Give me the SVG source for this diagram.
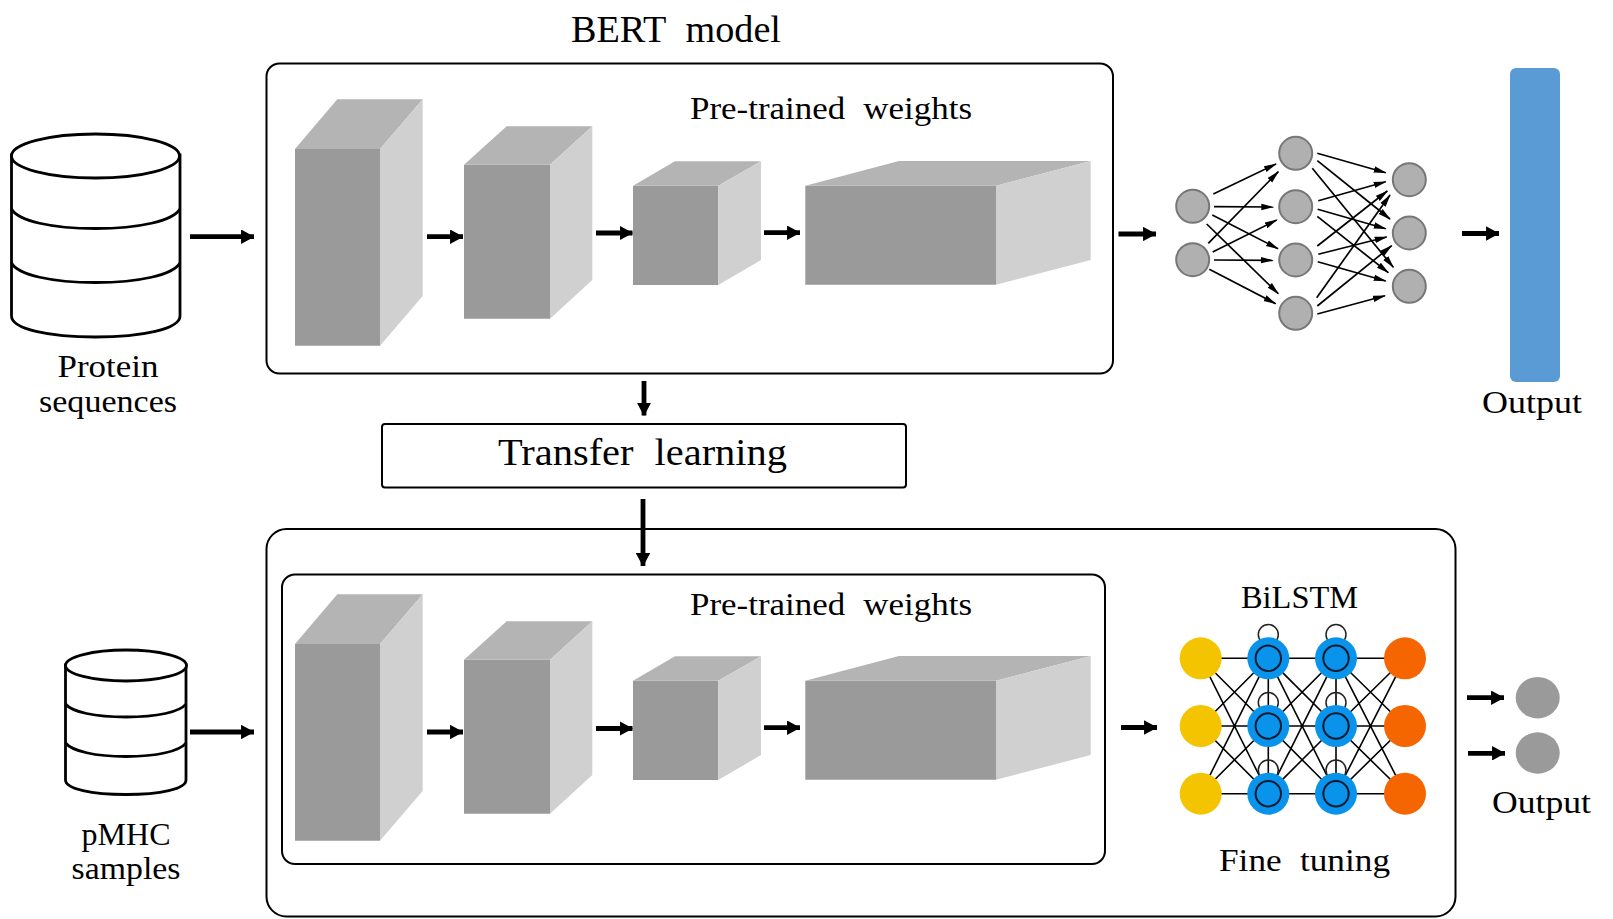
<svg xmlns="http://www.w3.org/2000/svg" width="1613" height="919" viewBox="0 0 1613 919">
<defs>
<marker id="big" markerUnits="strokeWidth" markerWidth="2.800" markerHeight="3" refX="2.700" refY="1.500" orient="auto"><path d="M0,0L2.800,1.500L0,3z" fill="#000"/></marker>
<marker id="small" markerUnits="userSpaceOnUse" markerWidth="13" markerHeight="8" refX="12" refY="4" orient="auto"><path d="M0,0.800L13,4L0,7.200z" fill="#000"/></marker>
<g id="stack">
<g id="c1"><path class="f" d="M295 149H380V345.700H295z"/><path class="t" d="M295 149L337.300 99.300H422.700L380 149z"/><path class="s" d="M380 149L422.700 99.300V296L380 345.700z"/></g>
<g id="c2"><path class="f" d="M464 164.700H550V318.700H464z"/><path class="t" d="M464 164.700L506.700 126.300H592.300L550 164.700z"/><path class="s" d="M550 164.700L592.300 126.300V280L550 318.700z"/></g>
<g id="c3"><path class="f" d="M633 185.700H718.300V285H633z"/><path class="t" d="M633 185.700L675 161.300H761L718.300 185.700z"/><path class="s" d="M718.300 185.700L761 161.300V260L718.300 285z"/></g>
<g id="c4"><path class="f" d="M805.300 185.700H996V284.700H805.300z"/><path class="t" d="M805.300 185.700L899 161H1090.700L996 185.700z"/><path class="s" d="M996 185.700L1090.700 161V260L996 284.700z"/></g>
</g>
</defs>
<style>
.f{fill:#9a9a9a}.t{fill:#b4b4b4}.s{fill:#d1d0d0}
.box{fill:#fff;stroke:#000;stroke-width:2}
text{font-family:"Liberation Serif","Times New Roman",serif;fill:#000;font-size:32px}
.m{text-anchor:middle}
.two{word-spacing:.27em}
.big{stroke:#000;stroke-width:4.800;fill:none;marker-end:url(#big)}
.nn{stroke:#000;stroke-width:1.700;fill:none;marker-end:url(#small)}
.nnode{fill:#b0b0b0;stroke:#777;stroke-width:2}
.db{fill:#fff;stroke:#000;stroke-width:2.800}
.arc{fill:none;stroke:#000;stroke-width:2.800}
.e{stroke:#000;stroke-width:1.600;fill:none}
.y{fill:#f4c400}.b{fill:#0a93ea}.o{fill:#f56600}
.i{fill:none;stroke:#0a1a30;stroke-width:2}
.l{fill:none;stroke:#222;stroke-width:1.500}
</style>
<rect width="1613" height="919" fill="#fff"/>

<g id="bert-box"><rect class="box" x="266.500" y="63.500" width="846.500" height="310" rx="13"/></g>
<g id="fine-box"><rect class="box" x="266.500" y="529" width="1189" height="387.500" rx="20"/></g>
<g id="inner-box"><rect class="box" x="282" y="574.500" width="823" height="289.500" rx="13"/></g>
<g id="transfer"><rect class="box" x="382" y="424" width="524" height="63.500" rx="3"/>
<text x="642.500" y="465" class="m two" style="font-size:37px" textLength="289" lengthAdjust="spacingAndGlyphs">Transfer learning</text></g>

<g id="bert-stack"><use href="#stack"/></g>
<g id="fine-stack"><use href="#stack" y="495"/></g>

<g id="protein-db">
<path class="db" d="M11.500 155V316C11.500 329 49 337 95.500 337S180 329 180 316V155z"/>
<ellipse class="db" cx="95.500" cy="156" rx="84" ry="22"/>
<path class="arc" d="M11.500 209C18 221 52 228.500 95.500 228.500S173 221 180 209M11.500 263C18 275 52 282.500 95.500 282.500S173 275 180 263"/>
<text x="108" y="377" class="m" textLength="101" lengthAdjust="spacingAndGlyphs">Protein</text><text x="108" y="412" class="m" textLength="138" lengthAdjust="spacingAndGlyphs">sequences</text>
</g>
<g id="pmhc-db">
<path class="db" d="M65.500 665V780C65.500 789 92 794.500 126 794.500S186 789 186 780V665z"/>
<ellipse class="db" cx="126" cy="665.500" rx="60.500" ry="15.500"/>
<path class="arc" d="M65.500 704C72 712 95 717 126 717S180 712 186 704M65.500 743C72 751 95 756.500 126 756.500S180 751 186 743"/>
<text x="126" y="845" class="m" textLength="89" lengthAdjust="spacingAndGlyphs">pMHC</text><text x="126" y="879" class="m" textLength="109" lengthAdjust="spacingAndGlyphs">samples</text>
</g>

<g id="labels">
<text x="571" y="41.500" class="two" style="font-size:37px" textLength="210" lengthAdjust="spacingAndGlyphs">BERT model</text>
<text x="690" y="119" class="two" textLength="282" lengthAdjust="spacingAndGlyphs">Pre-trained weights</text>
<text x="690" y="615" class="two" textLength="282" lengthAdjust="spacingAndGlyphs">Pre-trained weights</text>
<text x="1241" y="608" textLength="117" lengthAdjust="spacingAndGlyphs">BiLSTM</text>
<text x="1219" y="871" class="two" textLength="171" lengthAdjust="spacingAndGlyphs">Fine tuning</text>
<text x="1482" y="412.500" textLength="100" lengthAdjust="spacingAndGlyphs">Output</text>
<text x="1492" y="812.500" textLength="99" lengthAdjust="spacingAndGlyphs">Output</text>
</g>

<g id="connectors">
<path class="big" d="M190 236.700H254"/><path class="big" d="M427 236.700H463"/><path class="big" d="M596 233H632.500"/><path class="big" d="M764 232.700H800"/><path class="big" d="M1118.500 234H1156"/><path class="big" d="M1462 233.500H1499"/>
<path class="big" d="M644 381V415.500"/><path class="big" d="M643 499V566"/>
<path class="big" d="M190 732H254"/><path class="big" d="M427 732H463"/><path class="big" d="M596 728.500H632.500"/><path class="big" d="M764 727.700H800"/><path class="big" d="M1121 727.500H1157"/><path class="big" d="M1467 697.700H1504"/><path class="big" d="M1468 753.300H1505"/>
<path class="nn" d="M1213.300 194L1276 164"/><path class="nn" d="M1214 206.700L1273.300 207"/><path class="nn" d="M1212.300 215L1278 248.700"/><path class="nn" d="M1206.700 224L1278.300 293.700"/><path class="nn" d="M1208.300 243.300L1278.300 171.700"/><path class="nn" d="M1212.700 252L1276.700 220"/><path class="nn" d="M1214 260L1272.700 260.300"/><path class="nn" d="M1209.300 269.300L1275.700 303.700"/>
<path class="nn" d="M1317.300 153.300L1385.700 172.700"/><path class="nn" d="M1317.300 160.700L1390 219"/><path class="nn" d="M1312.300 168.300L1393.300 267.300"/><path class="nn" d="M1318.300 200.700L1385.700 181.700"/><path class="nn" d="M1317.700 209.300L1385.700 228.700"/><path class="nn" d="M1317.300 216.300L1388.300 272.700"/><path class="nn" d="M1317.300 246L1387.300 191"/><path class="nn" d="M1318.300 254.300L1386.700 237"/><path class="nn" d="M1317.700 261.700L1385.700 281"/><path class="nn" d="M1316.700 297.700L1390 195"/><path class="nn" d="M1317.300 306L1391.700 245.700"/><path class="nn" d="M1317.300 314L1385 295.700"/>
<g id="bilstm-edges">
<path class="e" d="M1200.700 658.300L1268.300 658.300M1200.700 658.300L1268.300 726M1200.700 658.300L1268.300 793.700M1200.700 726L1268.300 658.300M1200.700 726L1268.300 726M1200.700 726L1268.300 793.700M1200.700 793.700L1268.300 658.300M1200.700 793.700L1268.300 726M1200.700 793.700L1268.300 793.700"/>
<path class="e" d="M1268.300 658.300L1336 658.300M1268.300 658.300L1336 726M1268.300 658.300L1336 793.700M1268.300 726L1336 658.300M1268.300 726L1336 726M1268.300 726L1336 793.700M1268.300 793.700L1336 658.300M1268.300 793.700L1336 726M1268.300 793.700L1336 793.700"/>
<path class="e" d="M1336 658.300L1405 658.300M1336 658.300L1405 726M1336 658.300L1405 793.700M1336 726L1405 658.300M1336 726L1405 726M1336 726L1405 793.700M1336 793.700L1405 658.300M1336 793.700L1405 726M1336 793.700L1405 793.700"/>
<path class="e" d="M1268.300 658.300V793.700M1336 658.300V793.700"/>
<circle class="l" cx="1268.300" cy="634.500" r="10"/><circle class="l" cx="1336" cy="634.500" r="10"/><circle class="l" cx="1268.300" cy="702.500" r="10"/><circle class="l" cx="1336" cy="702.500" r="10"/><circle class="l" cx="1268.300" cy="770" r="10"/><circle class="l" cx="1336" cy="770" r="10"/>
</g>
</g>

<g id="nn-nodes">
<circle class="nnode" cx="1192.700" cy="206.300" r="16.500"/><circle class="nnode" cx="1192.700" cy="259.700" r="16.500"/>
<circle class="nnode" cx="1295.700" cy="153.300" r="16.500"/><circle class="nnode" cx="1295.700" cy="206.700" r="16.500"/><circle class="nnode" cx="1295.700" cy="260" r="16.500"/><circle class="nnode" cx="1295.700" cy="313.300" r="16.500"/>
<circle class="nnode" cx="1409.300" cy="179.700" r="16.500"/><circle class="nnode" cx="1409.300" cy="233" r="16.500"/><circle class="nnode" cx="1409.300" cy="286.300" r="16.500"/>
</g>
<g id="output-bar"><rect x="1510" y="68" width="50" height="314" rx="6" fill="#5b9bd5"/></g>
<g id="output-nodes"><ellipse cx="1537.700" cy="697.700" rx="22" ry="20.700" fill="#9a9a9a"/><ellipse cx="1537.700" cy="753" rx="22" ry="20.700" fill="#9a9a9a"/></g>

<g id="bilstm-nodes">
<circle class="y" cx="1200.700" cy="658.300" r="21"/><circle class="y" cx="1200.700" cy="726" r="21"/><circle class="y" cx="1200.700" cy="793.700" r="21"/>
<circle class="b" cx="1268.300" cy="658.300" r="21"/><circle class="b" cx="1268.300" cy="726" r="21"/><circle class="b" cx="1268.300" cy="793.700" r="21"/>
<circle class="b" cx="1336" cy="658.300" r="21"/><circle class="b" cx="1336" cy="726" r="21"/><circle class="b" cx="1336" cy="793.700" r="21"/>
<circle class="o" cx="1405" cy="658.300" r="21"/><circle class="o" cx="1405" cy="726" r="21"/><circle class="o" cx="1405" cy="793.700" r="21"/>
<circle class="i" cx="1268.300" cy="658.300" r="12.700"/><circle class="i" cx="1268.300" cy="726" r="12.700"/><circle class="i" cx="1268.300" cy="793.700" r="12.700"/>
<circle class="i" cx="1336" cy="658.300" r="12.700"/><circle class="i" cx="1336" cy="726" r="12.700"/><circle class="i" cx="1336" cy="793.700" r="12.700"/>
</g>
</svg>
